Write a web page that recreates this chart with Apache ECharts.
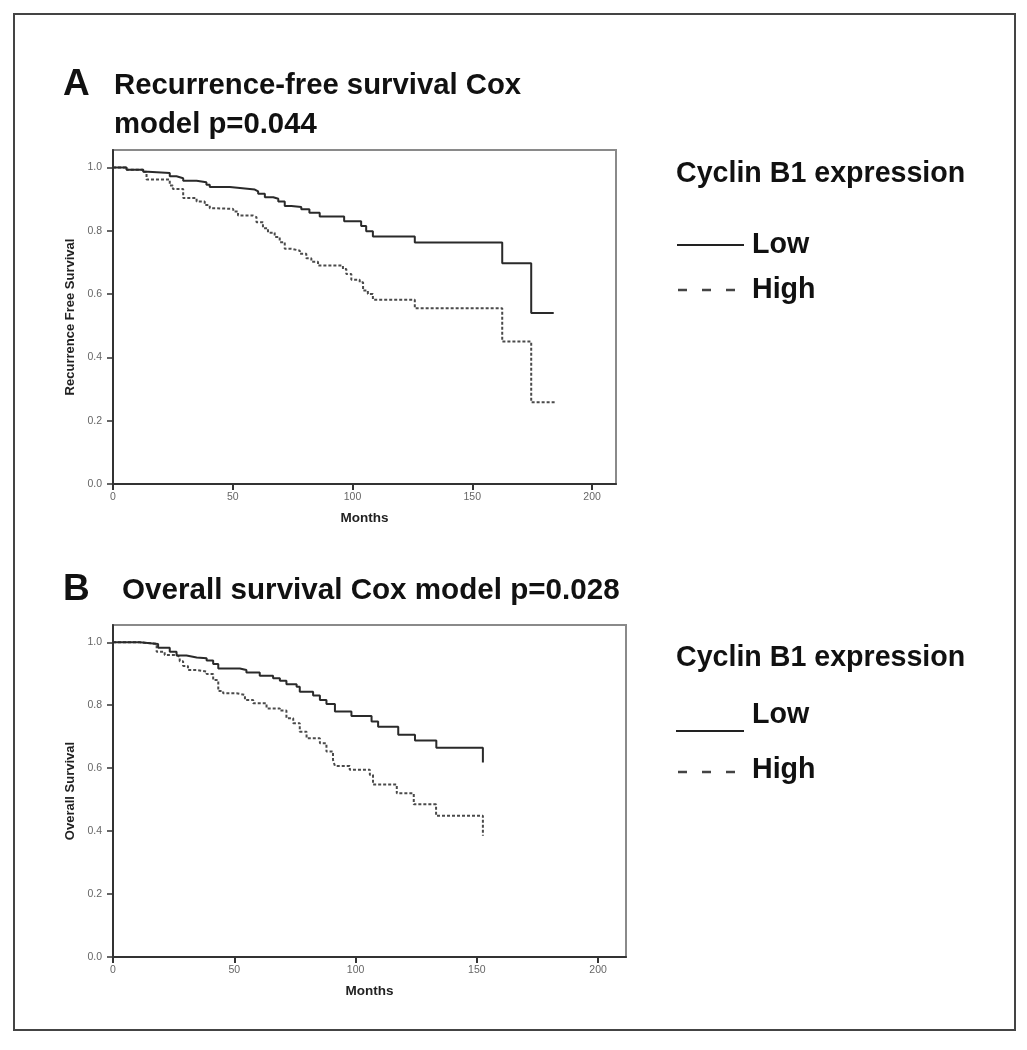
<!DOCTYPE html>
<html>
<head>
<meta charset="utf-8">
<script src="https://cdn.jsdelivr.net/npm/echarts@6/dist/echarts.min.js"></script>
<style>
  html, body { margin: 0; padding: 0; background: #fff; }
  #chart { width: 1027px; height: 1050px; }
</style>
</head>
<body>
<div id="chart"></div>
<script>
// ---- Data ----
const monthTicks = [0, 50, 100, 150, 200];
const survivalTicks = [0, 0.2, 0.4, 0.6, 0.8, 1.0];

// Panel A: Recurrence-free survival, [months, survival]
const rfsLow = [[0,1],[5.7,0.993],[12.6,0.986],[14.7,0.982],[23.7,0.972],[26.5,0.966],[29.3,0.958],[34.9,0.953],[39,0.945],[40.4,0.938],[48.8,0.935],[53,0.93],[59.2,0.924],[60.6,0.917],[63.4,0.906],[66.9,0.901],[69,0.892],[71.7,0.878],[74.5,0.875],[78.6,0.868],[82,0.857],[86.3,0.845],[96.5,0.83],[103.6,0.815],[105.7,0.798],[108.5,0.782],[126,0.763],[162.5,0.697],[174.6,0.54],[184,0.54]];
const rfsHigh = [[0,1],[5.7,0.993],[12.6,0.986],[14,0.962],[23.7,0.943],[25,0.932],[29.3,0.903],[34.9,0.892],[38.3,0.881],[40.4,0.871],[43.2,0.869],[50.2,0.861],[52.2,0.848],[58.5,0.843],[59.9,0.827],[62.6,0.808],[64.7,0.794],[67.5,0.78],[69.6,0.764],[71.7,0.743],[74.5,0.737],[78,0.727],[80.7,0.713],[82.8,0.702],[85.6,0.69],[96,0.679],[97.4,0.663],[99.5,0.645],[103,0.637],[104.4,0.611],[106.4,0.6],[108.5,0.582],[126,0.555],[162.5,0.45],[174.6,0.258],[185,0.258]];

// Panel B: Overall survival, [months, survival]
const osLow = [[0,1],[11,0.995],[18.6,0.983],[23.4,0.97],[26.2,0.958],[30.3,0.952],[34.5,0.949],[38.6,0.942],[41.3,0.931],[43.4,0.917],[52.3,0.912],[55,0.904],[60.5,0.894],[66,0.886],[68.8,0.878],[71.5,0.867],[75.7,0.859],[77,0.843],[82.5,0.831],[85.3,0.817],[88,0.804],[91.5,0.78],[98.3,0.766],[106.6,0.748],[109.3,0.732],[117.6,0.706],[124.5,0.688],[133.3,0.665],[152.5,0.665],[152.5,0.618]];
const osHigh = [[0,1],[11,0.995],[18,0.97],[21.3,0.96],[26.1,0.954],[27.5,0.94],[28.9,0.925],[30.9,0.912],[34.5,0.907],[38.6,0.899],[41.3,0.88],[43.4,0.845],[45.4,0.838],[50.9,0.833],[54.4,0.817],[57.8,0.806],[63.3,0.79],[68.8,0.783],[71.5,0.759],[74.3,0.743],[77,0.716],[79.8,0.695],[85.3,0.679],[88,0.653],[90.7,0.626],[91.5,0.607],[97.6,0.595],[105.9,0.578],[107.2,0.548],[117,0.52],[124,0.485],[133.2,0.449],[152.5,0.449],[152.5,0.385]];

const FONT = 'Liberation Sans, Arial, sans-serif';

function makeX(gridIndex, max) {
  return {
    type: 'value', gridIndex, min: 0, max,
    name: 'Months', nameLocation: 'middle', nameGap: 27,
    nameTextStyle: { fontFamily: FONT, fontWeight: 'bold', fontSize: 13.5, color: '#222' },
    axisLine: { onZero: false, lineStyle: { color: '#333', width: 2 } },
    axisTick: { show: true, length: 6, customValues: monthTicks, lineStyle: { color: '#333', width: 2 } },
    axisLabel: { customValues: monthTicks, fontFamily: FONT, fontSize: 10.5, color: '#666', margin: 8 },
    splitLine: { show: false }
  };
}
function makeY(gridIndex, name) {
  return {
    type: 'value', gridIndex, min: 0, max: 1.055,
    name, nameLocation: 'middle', nameGap: 36,
    nameTextStyle: { fontFamily: FONT, fontWeight: 'bold', fontSize: 13, color: '#222' },
    axisLine: { onZero: false, lineStyle: { color: '#333', width: 2 } },
    axisTick: { show: true, length: 6, customValues: survivalTicks, lineStyle: { color: '#333', width: 1.5 } },
    axisLabel: { customValues: survivalTicks, fontFamily: FONT, fontSize: 10.5, color: '#666', margin: 11,
      formatter: v => v.toFixed(1) },
    splitLine: { show: false }
  };
}
function lowSeries(data, i) {
  return { type: 'line', xAxisIndex: i, yAxisIndex: i, data, step: 'end', symbol: 'none',
    lineStyle: { color: '#2a2a2a', width: 2 }, z: 3, silent: true };
}
function highSeries(data, i) {
  return { type: 'line', xAxisIndex: i, yAxisIndex: i, data, step: 'end', symbol: 'none',
    lineStyle: { color: '#4a4a4a', width: 2, type: [3, 2] }, z: 2, silent: true };
}

const chart = echarts.init(document.getElementById('chart'), null, { renderer: 'canvas' });
chart.setOption({
  backgroundColor: '#fff',
  animation: false,
  grid: [
    { left: 113, top: 150, width: 503, height: 334, show: true, borderColor: '#8a8a8a', borderWidth: 2, backgroundColor: 'transparent' },
    { left: 113, top: 625, width: 513, height: 332, show: true, borderColor: '#8a8a8a', borderWidth: 2, backgroundColor: 'transparent' }
  ],
  xAxis: [makeX(0, 210), makeX(1, 211.5)],
  yAxis: [makeY(0, 'Recurrence Free Survival'), makeY(1, 'Overall Survival')],
  series: [lowSeries(rfsLow, 0), highSeries(rfsHigh, 0), lowSeries(osLow, 1), highSeries(osHigh, 1)],
  graphic: [
    { type: 'rect', shape: { x: 14, y: 14, width: 1001, height: 1016 }, style: { fill: 'none', stroke: '#444', lineWidth: 2 }, silent: true },
    // Panel A titles
    { type: 'text', x: 63, y: 85, style: { text: 'A', font: 'bold 37px ' + FONT, fill: '#111', verticalAlign: 'middle' } },
    { type: 'text', x: 114, y: 86, style: { text: 'Recurrence-free survival Cox', font: 'bold 29.3px ' + FONT, fill: '#111', verticalAlign: 'middle' } },
    { type: 'text', x: 114, y: 125, style: { text: 'model p=0.044', font: 'bold 29.3px ' + FONT, fill: '#111', verticalAlign: 'middle' } },
    // Panel A legend
    { type: 'text', x: 676, y: 174, style: { text: 'Cyclin B1 expression', font: 'bold 28.6px ' + FONT, fill: '#111', verticalAlign: 'middle' } },
    { type: 'line', shape: { x1: 677, y1: 245, x2: 744, y2: 245 }, style: { stroke: '#222', lineWidth: 2 } },
    { type: 'text', x: 752, y: 245, style: { text: 'Low', font: 'bold 28.6px ' + FONT, fill: '#111', verticalAlign: 'middle' } },
    { type: 'line', shape: { x1: 678, y1: 290, x2: 744, y2: 290 }, style: { stroke: '#444', lineWidth: 2.5, lineDash: [9, 15] } },
    { type: 'text', x: 752, y: 290, style: { text: 'High', font: 'bold 28.6px ' + FONT, fill: '#111', verticalAlign: 'middle' } },
    // Panel B titles
    { type: 'text', x: 63, y: 590, style: { text: 'B', font: 'bold 37px ' + FONT, fill: '#111', verticalAlign: 'middle' } },
    { type: 'text', x: 122, y: 591, style: { text: 'Overall survival Cox model p=0.028', font: 'bold 29.6px ' + FONT, fill: '#111', verticalAlign: 'middle' } },
    // Panel B legend
    { type: 'text', x: 676, y: 658, style: { text: 'Cyclin B1 expression', font: 'bold 28.6px ' + FONT, fill: '#111', verticalAlign: 'middle' } },
    { type: 'line', shape: { x1: 676, y1: 731, x2: 744, y2: 731 }, style: { stroke: '#222', lineWidth: 2 } },
    { type: 'text', x: 752, y: 715, style: { text: 'Low', font: 'bold 28.6px ' + FONT, fill: '#111', verticalAlign: 'middle' } },
    { type: 'line', shape: { x1: 678, y1: 772, x2: 744, y2: 772 }, style: { stroke: '#444', lineWidth: 2.5, lineDash: [9, 15] } },
    { type: 'text', x: 752, y: 770, style: { text: 'High', font: 'bold 28.6px ' + FONT, fill: '#111', verticalAlign: 'middle' } }
  ]
});
</script>
</body>
</html>
